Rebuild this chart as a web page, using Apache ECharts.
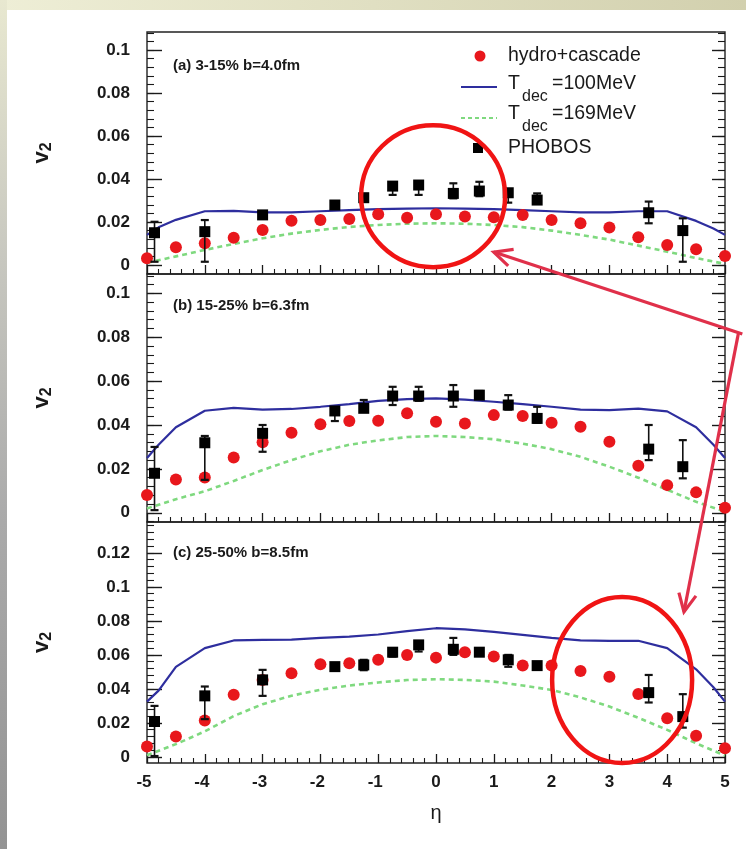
<!DOCTYPE html>
<html>
<head>
<meta charset="utf-8">
<script src="https://cdn.jsdelivr.net/npm/echarts@6/dist/echarts.min.js"></script>
<style>
  html, body { margin: 0; padding: 0; background: #fff; }
  #chart { width: 746px; height: 849px; }
</style>
</head>
<body>
<div id="chart"></div>
<script>
// pseudorapidity grids
const etaHydro = [-5, -4.5, -4, -3.5, -3, -2.5, -2, -1.5, -1, -0.5, 0, 0.5, 1, 1.5, 2, 2.5, 3, 3.5, 4, 4.5, 5];
const etaCurve = [-5, -4.8, -4.5, -4, -3.5, -3, -2.5, -2, -1.5, -1, -0.5, 0, 0.5, 1, 1.5, 2, 2.5, 3, 3.5, 4, 4.5, 4.8, 5];
const etaPhobos = [-4.87, -4.0, -3.0, -1.75, -1.25, -0.75, -0.3, 0.3, 0.75, 1.25, 1.75, 3.68, 4.27];

// (a) 3-15%  b=4.0fm
const hydroA = [0.0031, 0.0082, 0.0101, 0.0127, 0.0163, 0.0206, 0.0209, 0.0214, 0.0236, 0.0220, 0.0236, 0.0225, 0.0222, 0.0233, 0.0209, 0.0194, 0.0174, 0.0129, 0.0093, 0.0073, 0.0042];
const t100A = [0.014, 0.0175, 0.021, 0.025, 0.0252, 0.0245, 0.0245, 0.025, 0.0255, 0.026, 0.0262, 0.0264, 0.0262, 0.026, 0.0255, 0.025, 0.0245, 0.0245, 0.025, 0.025, 0.0205, 0.017, 0.014];
const t169A = [0.001, 0.004, 0.007, 0.0098, 0.0124, 0.0146, 0.0163, 0.0177, 0.0186, 0.0192, 0.0194, 0.0192, 0.0186, 0.0176, 0.016, 0.014, 0.0118, 0.009, 0.0062, 0.0032, 0.0005];
const phobosA = [0.015, 0.0155, 0.0233, 0.0279, 0.0313, 0.0367, 0.0372, 0.0333, 0.0344, 0.0336, 0.0302, 0.0243, 0.016];
const phobosAHi = [0.0201, 0.0209, 0.0245, 0.029, 0.0325, 0.038, 0.0385, 0.038, 0.0387, 0.035, 0.0333, 0.0295, 0.0217];
const phobosALo = [0.0015, 0.0015, 0.0222, 0.0268, 0.030, 0.0326, 0.0326, 0.031, 0.032, 0.029, 0.029, 0.0194, 0.0015];

// (b) 15-25%  b=6.3fm
const hydroB = [0.0081, 0.0152, 0.0161, 0.0252, 0.0321, 0.0365, 0.0403, 0.0418, 0.0419, 0.0453, 0.0415, 0.0407, 0.0445, 0.0441, 0.041, 0.0392, 0.0324, 0.0214, 0.0126, 0.0093, 0.0023];
const t100B = [0.025, 0.031, 0.039, 0.0465, 0.0478, 0.047, 0.0473, 0.0483, 0.0495, 0.051, 0.0518, 0.0521, 0.0516, 0.0506, 0.0495, 0.0483, 0.047, 0.0468, 0.0475, 0.0462, 0.039, 0.031, 0.025];
const t169B = [0.002, 0.0062, 0.0098, 0.0145, 0.0195, 0.024, 0.028, 0.031, 0.033, 0.0345, 0.035, 0.0345, 0.0335, 0.0315, 0.029, 0.0255, 0.021, 0.016, 0.0105, 0.005, 0.0005];
const phobosB = [0.018, 0.0319, 0.0362, 0.0464, 0.0476, 0.0532, 0.0532, 0.0532, 0.0536, 0.0491, 0.043, 0.029, 0.021];
const phobosBHi = [0.030, 0.035, 0.040, 0.048, 0.0514, 0.0574, 0.0574, 0.0582, 0.0555, 0.0536, 0.0483, 0.040, 0.0331];
const phobosBLo = [0.0012, 0.015, 0.0278, 0.0418, 0.046, 0.0491, 0.051, 0.0483, 0.052, 0.047, 0.041, 0.024, 0.0157];

// (c) 25-50%  b=8.5fm
const hydroC = [0.0061, 0.012, 0.0214, 0.0365, 0.0453, 0.0492, 0.0545, 0.0551, 0.0571, 0.060, 0.0584, 0.0616, 0.059, 0.0537, 0.0537, 0.0506, 0.0472, 0.037, 0.0227, 0.0124, 0.0051];
const t100C = [0.0325, 0.039, 0.053, 0.064, 0.0685, 0.0688, 0.069, 0.070, 0.0708, 0.072, 0.074, 0.0757, 0.075, 0.0735, 0.0718, 0.070, 0.0685, 0.0683, 0.0683, 0.064, 0.0515, 0.041, 0.0325];
const t169C = [0.001, 0.0075, 0.015, 0.024, 0.031, 0.036, 0.0395, 0.042, 0.0438, 0.0452, 0.0457, 0.0453, 0.0443, 0.042, 0.0394, 0.035, 0.0296, 0.023, 0.0159, 0.008, 0.0008];
const phobosC = [0.0208, 0.0359, 0.0453, 0.0531, 0.0541, 0.0616, 0.0659, 0.0633, 0.0616, 0.0571, 0.0537, 0.0378, 0.0237];
const phobosCHi = [0.030, 0.0414, 0.0512, 0.055, 0.0571, 0.064, 0.068, 0.070, 0.0635, 0.060, 0.0555, 0.0482, 0.0369];
const phobosCLo = [0.0005, 0.0222, 0.0359, 0.051, 0.051, 0.059, 0.062, 0.060, 0.0595, 0.053, 0.0515, 0.032, 0.0172];

// tick labels
const xTicks = [-5, -4, -3, -2, -1, 0, 1, 2, 3, 4, 5];
const yTicksAB = [0, 0.02, 0.04, 0.06, 0.08, 0.1];
const yTicksC = [0, 0.02, 0.04, 0.06, 0.08, 0.1, 0.12];

const panelTitles = ['(a) 3-15% b=4.0fm', '(b) 15-25% b=6.3fm', '(c) 25-50% b=8.5fm'];

// frame layout of the three stacked pads
const frameLeft = 147, frameWidth = 578;
const panels = [
  { top: 32,  height: 242, yMin: -0.0042, yMax: 0.1084, ticks: yTicksAB, hydro: hydroA, t100: t100A, t169: t169A, pho: phobosA, hi: phobosAHi, lo: phobosALo },
  { top: 274, height: 248, yMin: -0.0042, yMax: 0.1088, ticks: yTicksAB, hydro: hydroB, t100: t100B, t169: t169B, pho: phobosB, hi: phobosBHi, lo: phobosBLo },
  { top: 522, height: 241, yMin: -0.0036, yMax: 0.1382, ticks: yTicksC, hydro: hydroC, t100: t100C, t169: t169C, pho: phobosC, hi: phobosCHi, lo: phobosCLo }
];

const FONT = 'Liberation Sans, Arial, Helvetica, sans-serif';
const INK = '#1a1a1a';
const RED = '#e8171c';
const BLUE = '#2e2e9e';
const GREEN = '#7fd97f';

function minorValues(lo, hi, step) {
  const out = [];
  const start = Math.ceil(lo / step - 1e-9);
  for (let k = start; k * step <= hi + 1e-12; k++) out.push(+(k * step).toFixed(5));
  return out;
}

function fmtY(v) {
  return v === 0 ? '0' : String(+v.toFixed(2));
}

const grids = [], xAxes = [], yAxes = [], series = [];

panels.forEach((p, i) => {
  grids.push({
    left: frameLeft, top: p.top, width: frameWidth, height: p.height,
    show: true, borderColor: '#222', borderWidth: 1.4, backgroundColor: 'transparent',
    containLabel: false, outerBoundsMode: 'none'
  });

  const isBottom = i === panels.length - 1;
  xAxes.push({
    gridIndex: i, type: 'value', min: -5, max: 5, interval: 1, position: 'bottom',
    axisLine: { show: false, onZero: false },
    axisTick: { show: true, inside: true, length: 9, customValues: xTicks, lineStyle: { color: INK, width: 1.3 } },
    minorTick: { show: true, splitNumber: 5, length: 5, lineStyle: { color: INK, width: 1.1 } },
    splitLine: { show: false }, minorSplitLine: { show: false },
    axisLabel: isBottom ? {
      show: true, margin: 11, color: INK, fontSize: 17, fontWeight: 'bold', fontFamily: FONT,
      customValues: xTicks,
      formatter: v => (v < 0 ? '{n|' + v + '}' : '{p|' + v + '}'),
      rich: {
        n: { fontSize: 17, fontWeight: 'bold', fontFamily: FONT, color: INK, padding: [0, 6, 0, 0] },
        p: { fontSize: 17, fontWeight: 'bold', fontFamily: FONT, color: INK }
      }
    } : { show: false },
    name: isBottom ? 'η' : '', nameLocation: 'middle', nameGap: 40,
    nameTextStyle: { fontSize: 20, color: INK, fontFamily: FONT }
  });

  const minors = minorValues(p.yMin, p.yMax, 0.004);
  const base = { gridIndex: i, type: 'value', min: p.yMin, max: p.yMax, axisLine: { show: false, onZero: false }, splitLine: { show: false } };
  yAxes.push(Object.assign({}, base, {
    position: 'left',
    axisTick: { show: true, inside: true, length: 15, customValues: p.ticks, lineStyle: { color: INK, width: 1.4 } },
    axisLabel: { show: true, customValues: p.ticks, formatter: fmtY, margin: 17, color: INK, fontSize: 17, fontWeight: 'bold', fontFamily: FONT },
    name: '{v|v}{s|2}', nameLocation: 'middle', nameRotate: 90, nameGap: 92,
    nameTextStyle: {
      color: INK,
      rich: {
        v: { fontSize: 22, fontWeight: 'bold', fontFamily: FONT, color: INK, lineHeight: 24, verticalAlign: 'top' },
        s: { fontSize: 16, fontWeight: 'bold', fontFamily: FONT, color: INK, lineHeight: 16, verticalAlign: 'bottom' }
      }
    }
  }));
  yAxes.push(Object.assign({}, base, {
    position: 'left',
    axisTick: { show: true, inside: true, length: 7, customValues: minors, lineStyle: { color: INK, width: 1.1 } },
    axisLabel: { show: false }
  }));
  yAxes.push(Object.assign({}, base, {
    position: 'right',
    axisTick: { show: true, inside: true, length: 13, customValues: p.ticks, lineStyle: { color: INK, width: 1.4 } },
    axisLabel: { show: false }
  }));
  yAxes.push(Object.assign({}, base, {
    position: 'right',
    axisTick: { show: true, inside: true, length: 7, customValues: minors, lineStyle: { color: INK, width: 1.1 } },
    axisLabel: { show: false }
  }));

  const yi = 4 * i;
  // T_dec = 100 MeV
  series.push({
    type: 'line', xAxisIndex: i, yAxisIndex: yi, silent: true, z: 2,
    data: etaCurve.map((x, k) => [x, p.t100[k]]),
    symbol: 'none', showSymbol: false,
    lineStyle: { color: BLUE, width: 2.2 }
  });
  // T_dec = 169 MeV
  series.push({
    type: 'line', xAxisIndex: i, yAxisIndex: yi, silent: true, z: 2,
    data: etaHydro.map((x, k) => [x, p.t169[k]]),
    symbol: 'none', showSymbol: false,
    lineStyle: { color: GREEN, width: 2.6, type: [5, 4] }
  });
  // hydro + cascade
  series.push({
    type: 'scatter', xAxisIndex: i, yAxisIndex: yi, silent: true, z: 3, clip: false,
    data: etaHydro.map((x, k) => [x, p.hydro[k]]),
    symbol: 'circle', symbolSize: 12,
    itemStyle: { color: RED, opacity: 1 }
  });
  // PHOBOS error bars
  series.push({
    type: 'custom', xAxisIndex: i, yAxisIndex: yi, silent: true, z: 4, clip: false,
    data: etaPhobos.map((x, k) => [x, p.lo[k], p.hi[k]]),
    encode: { x: 0, y: [1, 2] },
    renderItem: (params, api) => {
      const x = api.value(0);
      const a = api.coord([x, api.value(2)]);
      const b = api.coord([x, api.value(1)]);
      const w = 4;
      return {
        type: 'group',
        children: [
          { type: 'line', shape: { x1: a[0], y1: a[1], x2: b[0], y2: b[1] }, style: { stroke: '#111', lineWidth: 1.6 } },
          { type: 'line', shape: { x1: a[0] - w, y1: a[1], x2: a[0] + w, y2: a[1] }, style: { stroke: '#111', lineWidth: 2.2 } },
          { type: 'line', shape: { x1: b[0] - w, y1: b[1], x2: b[0] + w, y2: b[1] }, style: { stroke: '#111', lineWidth: 2.2 } }
        ]
      };
    }
  });
  // PHOBOS
  series.push({
    type: 'scatter', xAxisIndex: i, yAxisIndex: yi, silent: true, z: 5, clip: false,
    data: etaPhobos.map((x, k) => [x, p.pho[k]]),
    symbol: 'rect', symbolSize: 11,
    itemStyle: { color: '#000', opacity: 1 }
  });
});

const chart = echarts.init(document.getElementById('chart'), null, { renderer: 'canvas' });
chart.setOption({
  animation: false,
  backgroundColor: 'transparent',
  grid: grids,
  xAxis: xAxes,
  yAxis: yAxes,
  series: series
});

// decorations: page background, pad titles, legend, highlight marks
const g = [];
g.push({ type: 'rect', z: -100, shape: { x: 0, y: 0, width: 746, height: 849 }, style: { fill: '#fff' } });
g.push({
  type: 'rect', z: -99, shape: { x: 0, y: 0, width: 746, height: 10 },
  style: { fill: new echarts.graphic.LinearGradient(0, 0, 1, 0, [
    { offset: 0, color: '#eeeed6' }, { offset: 1, color: '#d2d0ae' }]) }
});
g.push({
  type: 'rect', z: -99, shape: { x: 0, y: 0, width: 7, height: 849 },
  style: { fill: new echarts.graphic.LinearGradient(0, 0, 0, 1, [
    { offset: 0, color: '#e8e8d0' }, { offset: 0.3, color: '#c8c8c0' },
    { offset: 0.6, color: '#ababab' }, { offset: 1, color: '#939393' }]) }
});

panels.forEach((p, i) => {
  g.push({
    type: 'text', x: 173, y: p.top + (i === 0 ? 34 : 32) - (i === 2 ? 1 : 0),
    style: { text: panelTitles[i], fill: INK, font: 'bold 15px ' + FONT, verticalAlign: 'middle' }
  });
});

// legend
const legFont = '19.5px ' + FONT;
const subFont = '16px ' + FONT;
g.push({ type: 'circle', shape: { cx: 480, cy: 56, r: 5.5 }, style: { fill: RED } });
g.push({ type: 'text', x: 508, y: 56, style: { text: 'hydro+cascade', fill: INK, font: legFont, verticalAlign: 'middle' } });
g.push({ type: 'line', shape: { x1: 461, y1: 87, x2: 497, y2: 87 }, style: { stroke: BLUE, lineWidth: 2.2 } });
g.push({ type: 'text', x: 508, y: 84, style: { text: 'T', fill: INK, font: legFont, verticalAlign: 'middle' } });
g.push({ type: 'text', x: 522, y: 97, style: { text: 'dec', fill: INK, font: subFont, verticalAlign: 'middle' } });
g.push({ type: 'text', x: 552, y: 84, style: { text: '=100MeV', fill: INK, font: legFont, verticalAlign: 'middle' } });
g.push({ type: 'line', shape: { x1: 461, y1: 118, x2: 497, y2: 118 }, style: { stroke: GREEN, lineWidth: 2.2, lineDash: [4, 3] } });
g.push({ type: 'text', x: 508, y: 114, style: { text: 'T', fill: INK, font: legFont, verticalAlign: 'middle' } });
g.push({ type: 'text', x: 522, y: 127, style: { text: 'dec', fill: INK, font: subFont, verticalAlign: 'middle' } });
g.push({ type: 'text', x: 552, y: 114, style: { text: '=169MeV', fill: INK, font: legFont, verticalAlign: 'middle' } });
g.push({ type: 'rect', shape: { x: 473, y: 143, width: 10, height: 10 }, style: { fill: '#000' } });
g.push({ type: 'text', x: 508, y: 148, style: { text: 'PHOBOS', fill: INK, font: legFont, verticalAlign: 'middle' } });

// highlight rings and arrows, anchored in data space of their pads
const px = (gi, pt) => chart.convertToPixel({ gridIndex: gi }, pt);
const ringStyle = { fill: 'none', stroke: '#f01414', lineWidth: 4.5 };
const c1 = px(0, [-0.05, 0.032]);
g.push({ type: 'ellipse', z: 50, shape: { cx: c1[0], cy: c1[1], rx: 72, ry: 71 }, style: ringStyle });
const c2 = px(2, [3.22, 0.0453]);
g.push({ type: 'ellipse', z: 50, shape: { cx: c2[0], cy: c2[1], rx: 70, ry: 83 }, style: ringStyle });

function arrow(from, to) {
  const col = '#e0304a';
  const ang = Math.atan2(to[1] - from[1], to[0] - from[0]);
  const L = 20, spread = 0.45;
  const h1 = [to[0] - L * Math.cos(ang - spread), to[1] - L * Math.sin(ang - spread)];
  const h2 = [to[0] - L * Math.cos(ang + spread), to[1] - L * Math.sin(ang + spread)];
  g.push({ type: 'line', z: 51, shape: { x1: from[0], y1: from[1], x2: to[0], y2: to[1] }, style: { stroke: col, lineWidth: 3.2 } });
  g.push({ type: 'polyline', z: 51, shape: { points: [h1, to, h2] }, style: { stroke: col, lineWidth: 3.2, fill: 'none', lineJoin: 'miter' } });
}
arrow(px(1, [5.3, 0.0815]), px(0, [1.0, 0.006]));
arrow(px(1, [5.23, 0.0815]), px(2, [4.29, 0.0853]));

chart.setOption({ graphic: { elements: g } });
</script>
</body>
</html>
